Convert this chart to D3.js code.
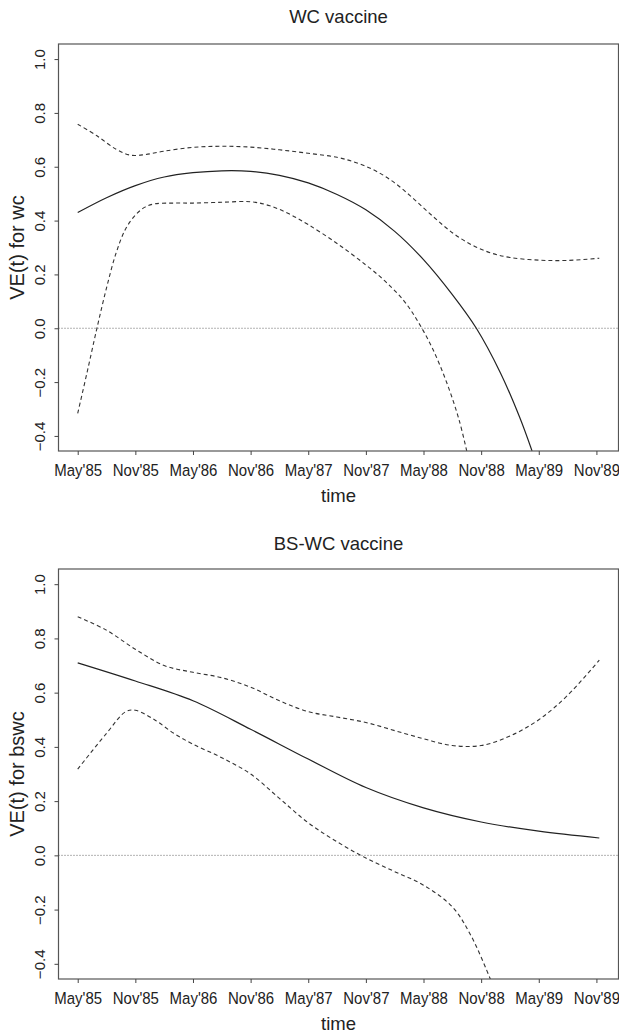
<!DOCTYPE html>
<html>
<head>
<meta charset="utf-8">
<script src="https://cdn.jsdelivr.net/npm/d3@7"></script>
<style>
  html, body { margin: 0; padding: 0; background: #fff; }
  svg { display: block; font-family: "Liberation Sans", Arial, Helvetica, sans-serif; }
</style>
</head>
<body>
<svg id="chart" width="619" height="1036"></svg>
<script>
// Time axis: months since May 1985
const tickMonths = [0, 6, 12, 18, 24, 30, 36, 42, 48, 54];
const tickLabels = ["May'85", "Nov'85", "May'86", "Nov'86", "May'87", "Nov'87", "May'88", "Nov'88", "May'89", "Nov'89"];
const yTicks = [-0.4, -0.2, 0.0, 0.2, 0.4, 0.6, 0.8, 1.0];

// WC vaccine: estimate and pointwise band
const wcEstMonths = [0, 3, 6, 9, 12, 15, 18, 21, 24, 27, 30, 33, 36, 39, 41.5, 44, 46, 47.3];
const wcEst       = [0.43, 0.485, 0.53, 0.562, 0.578, 0.585, 0.583, 0.568, 0.54, 0.497, 0.44, 0.36, 0.255, 0.125, 0.0, -0.165, -0.33, -0.456];
const wcUpMonths  = [0, 2, 4, 5.5, 7, 9, 12, 15, 18, 21, 24, 27, 29, 31, 33, 35, 37, 39, 41, 43, 45, 48, 51, 54.3];
const wcUp        = [0.758, 0.715, 0.665, 0.643, 0.645, 0.658, 0.672, 0.676, 0.673, 0.663, 0.65, 0.635, 0.615, 0.585, 0.54, 0.48, 0.415, 0.355, 0.31, 0.28, 0.263, 0.253, 0.252, 0.26];
const wcLoMonths  = [0, 1, 2, 3, 4, 5, 6, 7, 8, 10, 12, 15, 18, 20, 22, 24, 27, 30, 32, 34, 35.5, 37, 38.5, 39.7, 40.5];
const wcLo        = [-0.316, -0.16, 0.0, 0.15, 0.28, 0.37, 0.42, 0.45, 0.462, 0.465, 0.465, 0.468, 0.47, 0.455, 0.425, 0.385, 0.315, 0.235, 0.175, 0.1, 0.02, -0.08, -0.21, -0.34, -0.456];

// BS-WC vaccine: estimate and pointwise band
const bswcEstMonths = [0, 6, 12, 18, 24, 30, 36, 42, 48, 54.3];
const bswcEst       = [0.71, 0.643, 0.57, 0.465, 0.355, 0.25, 0.175, 0.123, 0.089, 0.064];
const bswcUpMonths  = [0, 3, 6, 9, 12, 15, 18, 21, 24, 27, 30, 33, 36, 39, 42, 45, 48, 51, 54.3];
const bswcUp        = [0.88, 0.83, 0.76, 0.70, 0.675, 0.655, 0.62, 0.57, 0.53, 0.51, 0.49, 0.46, 0.43, 0.405, 0.405, 0.44, 0.50, 0.59, 0.72];
const bswcLoMonths  = [0, 3, 5, 6, 8, 10, 12, 15, 18, 21, 24, 27, 30, 33, 36, 39, 41, 43];
const bswcLo        = [0.318, 0.45, 0.53, 0.535, 0.50, 0.45, 0.41, 0.36, 0.30, 0.21, 0.12, 0.05, -0.01, -0.06, -0.11, -0.19, -0.30, -0.46];

const svg = d3.select("#chart");
const ink = "#222";

function zip(xs, ys) { return xs.map((x, i) => ({ x, y: ys[i] })); }

function drawPanel(opt) {
  const { top, bottom, title, titleY, yTitle, series, clipId } = opt;
  const left = 58.5, right = 618.5;

  const x = d3.scaleLinear().domain([-2.0, 56.3]).range([left, right]);
  const y = d3.scaleLinear().domain([-0.456, 1.056]).range([bottom, top]);

  const g = svg.append("g");

  g.append("text")
    .attr("x", (left + right) / 2).attr("y", titleY)
    .attr("text-anchor", "middle").attr("font-size", 18.5).attr("fill", ink)
    .text(title);

  // zero reference line
  g.append("line")
    .attr("x1", left).attr("x2", right)
    .attr("y1", y(0)).attr("y2", y(0))
    .attr("stroke", "#666").attr("stroke-width", 1)
    .attr("stroke-dasharray", "1,2");

  g.append("clipPath").attr("id", clipId)
    .append("rect").attr("x", left).attr("y", top)
    .attr("width", right - left).attr("height", bottom - top);

  const line = d3.line().x(d => x(d.x)).y(d => y(d.y)).curve(d3.curveCatmullRom.alpha(0.5));

  series.forEach(s => {
    g.append("path")
      .datum(zip(s.months, s.values))
      .attr("clip-path", `url(#${clipId})`)
      .attr("fill", "none")
      .attr("stroke", s.dashed ? "#333" : "#222")
      .attr("stroke-width", s.dashed ? 1.1 : 1.2)
      .attr("stroke-dasharray", s.dashed ? "4,3" : null)
      .attr("d", line);
  });

  // frame
  g.append("rect")
    .attr("x", left).attr("y", top)
    .attr("width", right - left).attr("height", bottom - top)
    .attr("fill", "none").attr("stroke", "#555").attr("stroke-width", 1.2);

  // x axis
  const xAxis = d3.axisBottom(x).tickValues(tickMonths)
    .tickFormat((d, i) => tickLabels[i]).tickSize(4);
  const xg = g.append("g").attr("transform", `translate(0,${bottom})`).call(xAxis);
  xg.select(".domain").remove();
  xg.selectAll(".tick line").attr("stroke", "#444");
  xg.selectAll(".tick text")
    .attr("font-size", 15).attr("fill", ink)
    .attr("font-family", "Liberation Sans, Arial, sans-serif")
    .attr("y", 0).attr("dy", null)
    .attr("transform", "translate(0,25) scale(1,1.15)");

  g.append("text")
    .attr("x", (left + right) / 2).attr("y", bottom + 51)
    .attr("text-anchor", "middle").attr("font-size", 18.5).attr("fill", ink)
    .text("time");

  // y axis with labels rotated parallel to the axis
  const yAxis = d3.axisLeft(y).tickValues(yTicks).tickFormat(d3.format(".1f")).tickSize(4).tickPadding(0);
  const yg = g.append("g").attr("transform", `translate(${left},0)`).call(yAxis);
  yg.select(".domain").remove();
  yg.selectAll(".tick line").attr("stroke", "#444");
  yg.selectAll(".tick text")
    .attr("font-size", 15).attr("fill", ink)
    .attr("font-family", "Liberation Sans, Arial, sans-serif")
    .attr("text-anchor", "middle").attr("dy", null).attr("x", null)
    .attr("transform", "translate(-13.5,0) rotate(-90)");

  g.append("text")
    .attr("transform", `translate(24,${(top + bottom) / 2}) rotate(-90)`)
    .attr("text-anchor", "middle").attr("font-size", 20).attr("fill", ink)
    .text(yTitle);
}

drawPanel({
  top: 44, bottom: 451, title: "WC vaccine", titleY: 23, yTitle: "VE(t) for wc", clipId: "clipWC",
  series: [
    { months: wcEstMonths, values: wcEst, dashed: false },
    { months: wcUpMonths, values: wcUp, dashed: true },
    { months: wcLoMonths, values: wcLo, dashed: true }
  ]
});

drawPanel({
  top: 569, bottom: 979, title: "BS-WC vaccine", titleY: 550, yTitle: "VE(t) for bswc", clipId: "clipBSWC",
  series: [
    { months: bswcEstMonths, values: bswcEst, dashed: false },
    { months: bswcUpMonths, values: bswcUp, dashed: true },
    { months: bswcLoMonths, values: bswcLo, dashed: true }
  ]
});
</script>
</body>
</html>
